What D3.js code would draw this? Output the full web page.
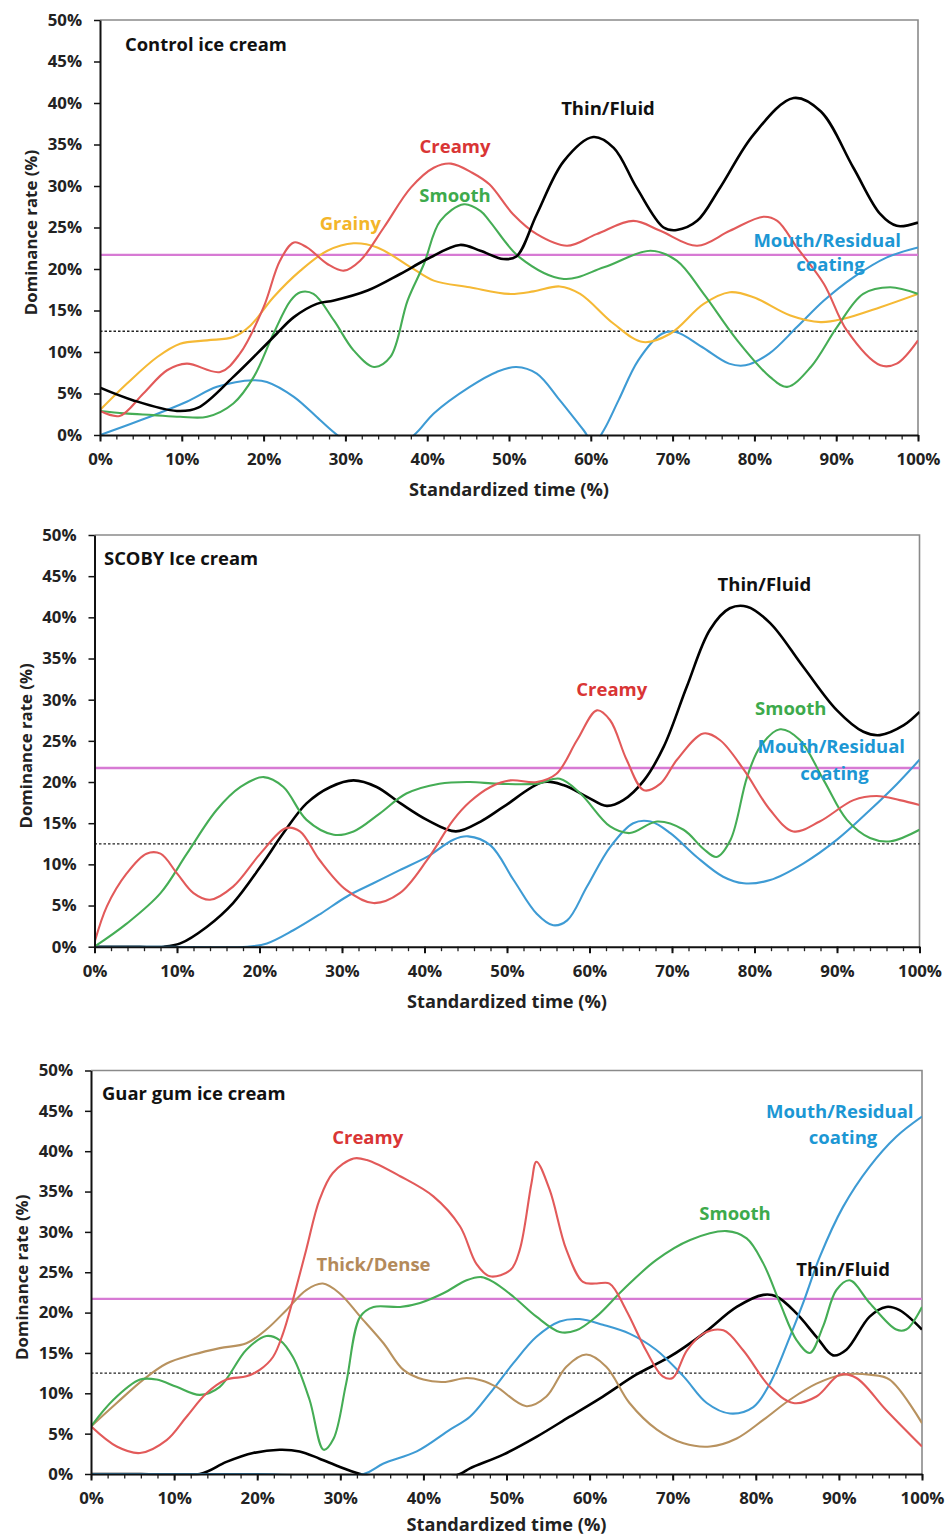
<!DOCTYPE html>
<html>
<head>
<meta charset="utf-8">
<script src="https://cdn.jsdelivr.net/npm/d3@7"></script>
<style>
  body { margin: 0; background: #fff; }
  svg text { font-family: "Open Sans", Lato, sans-serif; font-weight: 700; }
</style>
</head>
<body>
<svg id="chart" width="948" height="1538"></svg>
<script>
// ---- Axis ticks and reference levels ----
const xTickValues = [0, 10, 20, 30, 40, 50, 60, 70, 80, 90, 100];
const xMinorTicks = d3.range(0, 101, 2);
const yTickValues = [0, 5, 10, 15, 20, 25, 30, 35, 40, 45, 50];
const chanceLevel = 12.5;        // dotted line
const significanceLevel = 21.7;  // magenta line

// ---- Control ice cream: [standardized time %, dominance rate %] ----
const controlCreamy = [[0,2.9],[2.4,2.3],[5.3,5],[8.2,7.8],[10.6,8.6],[14.7,7.6],[17.1,9.8],[20,15.4],[22,21],[23.7,23.2],[25.3,22.6],[27.8,20.6],[29.8,19.8],[31.8,21],[34.7,25],[38,29.8],[40.8,32.2],[42.9,32.7],[45.5,31.6],[47.6,30.2],[50.5,26.6],[53.4,24.2],[57.1,22.8],[60.7,24.2],[65.2,25.8],[68.5,24.6],[73,22.8],[77,24.6],[81.1,26.3],[82.8,25.8],[85.2,22.6],[88.5,18.2],[91.3,12.6],[95.4,8.4],[97.4,8.6],[100,11.4]];
const controlSmooth = [[0,2.9],[3,2.6],[6.5,2.4],[9.8,2.2],[13.1,2.2],[16.3,3.8],[18.8,7],[21.2,12.2],[23.3,16.2],[24.5,17.2],[26.1,17],[28.6,13.8],[31,10.2],[33.5,8.2],[35.5,9.4],[37.6,16.2],[39.6,20.6],[41.6,25.8],[44.5,27.8],[46.5,27],[47.6,25.8],[51.3,21.4],[56.7,18.8],[61.6,20.2],[67.3,22.2],[70.5,21],[73.8,17],[77.9,11.4],[81.9,7],[84,5.8],[86.9,8.2],[90.1,13],[93.3,17],[96.6,17.8],[100,17]];
const controlGrainy = [[0,3],[3.3,6.2],[7,9.4],[9.8,11],[13.1,11.4],[16.3,11.8],[18.4,13.2],[21.2,16.6],[24.5,19.8],[27.8,22.2],[31,23.1],[33.9,22.6],[38,20.2],[40.8,18.6],[45.2,17.8],[50,17],[53,17.3],[56.2,17.9],[58.7,17],[62.8,13.4],[66.4,11.2],[69.7,12.2],[73.8,15.8],[77,17.2],[79.9,16.6],[84.4,14.4],[88.1,13.6],[90.9,14],[95.4,15.4],[100,17]];
const controlThin = [[0,5.7],[4,4.2],[9.4,2.9],[12,3.3],[16.3,7],[20,10.6],[21.6,12.2],[23.7,14.2],[26.5,15.8],[28.6,16.2],[32.7,17.4],[36.7,19.4],[40,21.2],[44,22.9],[46.5,22.2],[49.3,21.2],[50.9,21.5],[53.4,26.6],[56.7,33],[60.3,35.9],[62.8,34.6],[65.6,29.8],[68.9,25],[70.5,24.7],[73,25.8],[75.8,29.8],[79.9,36.2],[84.8,40.6],[88.1,39],[92.1,32.2],[95.4,26.6],[97.4,25.2],[100,25.6]];
const controlMouth = [[0,0],[6.1,2.2],[10.6,4],[14.3,5.8],[18.8,6.6],[20.4,6.4],[23.7,4.6],[26.9,1.8],[29,0],[33.5,-3],[38.4,0],[40.8,2.6],[45.2,5.8],[48.5,7.6],[50.9,8.2],[53.4,7.4],[56.2,4.2],[59.1,0.6],[60.4,-1],[61.6,0.6],[63.4,4.2],[65.8,9],[68.7,12.2],[70.4,12.4],[73.6,10.6],[76.9,8.6],[78.9,8.4],[81.8,9.8],[85.2,13],[88.5,16.2],[92.1,19],[96.2,21.4],[100,22.6]];

// ---- SCOBY ice cream ----
const scobyThin = [[0,0],[4,0],[8.4,0],[10.4,0.4],[13.6,2.4],[16.8,5.3],[20.1,9.7],[22.9,13.8],[25.7,17.4],[28.6,19.4],[31.4,20.2],[34.2,19.4],[37.1,17.4],[40.3,15.4],[43.8,14],[46.8,15.2],[49.6,17],[54.4,20],[56.9,19.6],[59.7,18.2],[62.1,17.1],[64.1,17.8],[66.6,20.2],[69,24.3],[71.8,31.6],[74.6,38.5],[77,41.1],[79.1,41.3],[81.9,39.3],[85.9,34],[90,28.7],[93.2,26.1],[95.2,25.7],[98.1,26.9],[100,28.5]];
const scobyCreamy = [[0,0.5],[1.5,4.9],[3.9,8.9],[6.3,11.3],[8,11.3],[10,8.9],[12,6.5],[14,5.7],[16.8,7.3],[20.1,11.3],[23.2,14.4],[24.9,14],[27.3,10.5],[30.5,6.9],[33.8,5.3],[37,6.5],[40.3,10.5],[43.5,15.4],[45.5,17.6],[48,19.4],[50.4,20.2],[53.6,20],[56,21],[58.5,25.1],[60.9,28.7],[62.5,27.5],[64.5,22.7],[66.6,19],[68.6,19.8],[70.6,22.7],[73.8,25.9],[75.8,25.1],[78.7,21.5],[81.9,16.6],[84.7,14],[87.9,15.2],[92,17.8],[94.8,18.3],[97.6,17.8],[100,17.2]];
const scobySmooth = [[0,0],[3.9,2.8],[8,6.5],[11.2,11.3],[14.8,16.6],[17.7,19.4],[20.5,20.6],[22.9,19.4],[25.7,15.4],[29,13.6],[31.4,14],[34.6,16.2],[37.8,18.6],[41.8,19.8],[45.5,20],[48.8,19.8],[53.6,19.8],[56.4,20.4],[58.9,18.6],[62.5,14.6],[64.9,13.8],[68.2,15.2],[71.4,14.2],[73.8,11.9],[75.4,10.9],[77.1,13],[79.1,20.6],[80.7,24.3],[83.1,26.4],[85.5,25.1],[88.4,20.2],[91.2,15.4],[94,13.2],[96.5,12.8],[100,14.2]];
const scobyMouth = [[0,0],[9,0],[18.5,0],[20.9,0.4],[24.1,2],[27.4,4],[30.6,6.1],[33.8,7.7],[37,9.3],[40.3,10.9],[43.5,13],[45.3,13.4],[48,12.3],[50.8,8.1],[53.6,4],[55.6,2.6],[57.3,3.2],[59.7,7.3],[62.5,12.1],[65.3,15],[67.4,15.2],[69.8,13.8],[73,10.9],[76.2,8.5],[78.7,7.7],[81.9,8.1],[85.9,10.1],[90,13],[94,16.6],[97.3,19.8],[100,22.7]];

// ---- Guar gum ice cream ----
const guarCreamy = [[0,5.9],[3.1,3.4],[5.9,2.6],[9.1,4.2],[11.5,7.1],[13.9,10],[16.3,11.7],[18.7,12.1],[20.3,12.9],[21.9,14.5],[23.1,17.4],[24.3,21.6],[25.9,27.8],[27.5,34],[29.1,37.3],[31.6,39.1],[33.2,38.9],[37.2,36.9],[41.2,34.4],[44.4,30.7],[46.4,26],[48,24.5],[50.5,25.3],[51.6,27.8],[53,36],[53.6,38.7],[55.2,35.2],[57.2,27.8],[59.2,23.8],[60.8,23.6],[62.4,23.6],[64.4,20.3],[66.8,15.3],[68.8,12.1],[70,11.9],[71.7,15.3],[73.7,17.4],[76.1,17.8],[78.5,15.3],[81.7,10.8],[84.5,8.8],[87.3,9.6],[90.1,12.3],[92.1,11.9],[95.7,7.9],[100,3.4]];
const guarSmooth = [[0,5.9],[2.7,9.2],[5.9,11.7],[7.9,11.7],[10.3,10.8],[13.1,9.8],[15.5,10.8],[18.7,15.4],[21.1,17.1],[22.7,16.6],[24.3,14.5],[26.3,9.2],[28,3],[29.2,4.4],[30.7,11.2],[32.4,19.5],[34,20.7],[37.2,20.7],[39.6,21.2],[42.4,22.4],[45.2,24],[47,24.4],[48.4,23.8],[50.8,22],[53.6,19.5],[56.4,17.6],[58.4,17.8],[60.8,19.5],[64,22.8],[68,26.5],[72.1,29],[76.5,30.1],[78.9,29.2],[80.9,26.1],[82.9,21.2],[84.9,16.6],[86.5,15],[88.1,18.3],[89.7,22.8],[91.3,24],[93.7,21.2],[96.9,17.9],[98.1,17.9],[100,20.7]];
const guarThick = [[0,5.9],[3.1,8.8],[6.3,11.7],[9.1,13.7],[12.3,14.8],[15.5,15.6],[18.7,16.2],[21.1,17.9],[23.5,20.3],[25.9,22.8],[27.9,23.6],[29.9,22.4],[32.4,19.5],[35.2,16.2],[37.6,12.9],[40,11.7],[42.4,11.4],[45.2,11.9],[47,11.6],[48.8,10.8],[52.4,8.4],[54.8,9.6],[57.2,13.3],[59.6,14.8],[62,13.3],[64.8,8.8],[68.1,5.5],[71.3,3.8],[74.5,3.4],[77.7,4.4],[80.9,6.7],[84.1,9.2],[87.3,11.2],[90.5,12.3],[93.7,12.3],[96.1,11.7],[100,6.3]];
const guarMouth = [[0,0],[10,0],[20,0],[32.8,0],[35.2,1.3],[39.2,2.8],[43.2,5.5],[45.6,7.1],[48,10],[50.8,13.7],[53.6,17],[56.4,18.9],[58.8,19.2],[61.6,18.5],[64.8,17.4],[68,15.4],[71.3,12.1],[74.1,8.8],[76.9,7.5],[79.7,8.3],[81.7,11.2],[84.1,17],[85.7,21.2],[87.7,26.9],[90.5,33.1],[93.7,38.1],[96.9,41.8],[100,44.3]];
const guarThin = [[0,0],[6,0],[13.1,0],[16.3,1.5],[19.5,2.6],[22.7,3],[25.1,2.8],[27.5,1.9],[29.9,0.9],[32.4,0],[38,-1.5],[44.4,0],[45.6,0.7],[49.6,2.4],[53.6,4.6],[57.6,7.1],[61.6,9.6],[65.6,12.3],[69.6,14.5],[73.7,17.4],[77.7,20.7],[80.9,22.2],[82.5,22],[84.9,19.9],[87.3,17],[89.3,14.7],[90.9,15.4],[93.7,19.5],[95.7,20.7],[97.3,20.3],[100,17.9]];

// ---- Attribute colours ----
const colors = {
  creamy: { line: "#e25a5a", text: "#d93535" },
  smooth: { line: "#45ad55", text: "#3daa4c" },
  grainy: { line: "#f5b935", text: "#f3b52a" },
  mouth:  { line: "#3e9bd4", text: "#1c97d4" },
  thick:  { line: "#b8925f", text: "#b48a5a" },
  thin:   { line: "#000000", text: "#111111" }
};

const panels = [
  {
    title: "Control ice cream",
    box: { left: 100, right: 918, top: 20, bottom: 435 },
    titlePos: { dx: 25, dy: 31 },
    xTitleDy: 61,
    series: [
      { data: controlMouth, c: "mouth" },
      { data: controlGrainy, c: "grainy" },
      { data: controlSmooth, c: "smooth" },
      { data: controlCreamy, c: "creamy" },
      { data: controlThin, c: "thin", w: 2.6 }
    ],
    labels: [
      { text: "Thin/Fluid", c: "thin", at: [62.1, 38.6] },
      { text: "Creamy", c: "creamy", at: [43.4, 34.0] },
      { text: "Smooth", c: "smooth", at: [43.4, 28.1] },
      { text: "Grainy", c: "grainy", at: [30.6, 24.7] },
      { text: "Mouth/Residual", c: "mouth", at: [88.9, 22.7] },
      { text: "coating", c: "mouth", at: [89.3, 19.8] }
    ]
  },
  {
    title: "SCOBY Ice cream",
    box: { left: 94.5, right: 919.5, top: 535, bottom: 946.7 },
    titlePos: { dx: 9.5, dy: 30 },
    xTitleDy: 61,
    series: [
      { data: scobyThin, c: "thin", w: 2.6 },
      { data: scobyMouth, c: "mouth" },
      { data: scobySmooth, c: "smooth" },
      { data: scobyCreamy, c: "creamy" }
    ],
    labels: [
      { text: "Thin/Fluid", c: "thin", at: [81.2, 43.2] },
      { text: "Creamy", c: "creamy", at: [62.7, 30.4] },
      { text: "Smooth", c: "smooth", at: [84.4, 28.2] },
      { text: "Mouth/Residual", c: "mouth", at: [89.3, 23.5] },
      { text: "coating", c: "mouth", at: [89.7, 20.2] }
    ]
  },
  {
    title: "Guar gum ice cream",
    box: { left: 91, right: 922, top: 1070.5, bottom: 1474 },
    titlePos: { dx: 11, dy: 29.5 },
    xTitleDy: 57,
    series: [
      { data: guarThin, c: "thin", w: 2.6 },
      { data: guarMouth, c: "mouth" },
      { data: guarThick, c: "thick" },
      { data: guarSmooth, c: "smooth" },
      { data: guarCreamy, c: "creamy" }
    ],
    labels: [
      { text: "Creamy", c: "creamy", at: [33.3, 40.9] },
      { text: "Thick/Dense", c: "thick", at: [34.0, 25.1] },
      { text: "Mouth/Residual", c: "mouth", at: [90.1, 44.1] },
      { text: "coating", c: "mouth", at: [90.5, 40.9] },
      { text: "Smooth", c: "smooth", at: [77.5, 31.5] },
      { text: "Thin/Fluid", c: "thin", at: [90.5, 24.5] }
    ]
  }
];

const svg = d3.select("#chart");
const defs = svg.append("defs");

panels.forEach((p, i) => {
  const b = p.box;
  const x = d3.scaleLinear().domain([0, 100]).range([b.left, b.right]);
  const y = d3.scaleLinear().domain([0, 50]).range([b.bottom, b.top]);
  const g = svg.append("g");

  defs.append("clipPath").attr("id", "clip" + i)
    .append("rect")
    .attr("x", b.left).attr("y", b.top)
    .attr("width", b.right - b.left).attr("height", b.bottom - b.top + 1.2);

  // plot frame (top and right edges)
  g.append("path")
    .attr("d", `M${b.left},${b.top}H${b.right}V${b.bottom}`)
    .attr("fill", "none").attr("stroke", "#8a8a8a").attr("stroke-width", 1.6);

  // reference levels
  g.append("line")
    .attr("x1", b.left).attr("x2", b.right)
    .attr("y1", y(significanceLevel)).attr("y2", y(significanceLevel))
    .attr("stroke", "#d77ad4").attr("stroke-width", 2.4);
  g.append("line")
    .attr("x1", b.left).attr("x2", b.right)
    .attr("y1", y(chanceLevel)).attr("y2", y(chanceLevel))
    .attr("stroke", "#222").attr("stroke-width", 1.3)
    .attr("stroke-dasharray", "2.5,2");

  // attribute curves
  const line = d3.line()
    .x(d => x(d[0])).y(d => y(d[1]))
    .curve(d3.curveCatmullRom.alpha(0.5));
  const lines = g.append("g").attr("clip-path", `url(#clip${i})`);
  p.series.forEach(s => {
    lines.append("path")
      .datum(s.data)
      .attr("d", line)
      .attr("fill", "none")
      .attr("stroke", colors[s.c].line)
      .attr("stroke-width", s.w || 2.1)
      .attr("stroke-linejoin", "round");
  });

  // x axis: minor ticks every 2 %, labelled major ticks every 10 %
  const xMinor = g.append("g").attr("transform", `translate(0,${b.bottom})`)
    .call(d3.axisBottom(x).tickValues(xMinorTicks).tickFormat("").tickSize(4.5).tickSizeOuter(0));
  xMinor.select(".domain").remove();
  xMinor.selectAll("line").attr("stroke", "#222").attr("stroke-width", 1.3);

  const xAxis = g.append("g").attr("transform", `translate(0,${b.bottom})`)
    .call(d3.axisBottom(x).tickValues(xTickValues).tickFormat(d => d + "%").tickSize(6.5).tickSizeOuter(0).tickPadding(12));
  xAxis.select(".domain").attr("stroke", "#111").attr("stroke-width", 2);
  xAxis.selectAll("line").attr("stroke", "#111").attr("stroke-width", 2);
  xAxis.selectAll("text").attr("font-size", 16.8).attr("fill", "#222")
    .attr("font-family", "'Open Sans', sans-serif").attr("font-weight", 700);

  // y axis
  const yAxis = g.append("g").attr("transform", `translate(${b.left},0)`)
    .call(d3.axisLeft(y).tickValues(yTickValues).tickFormat(d => d + "%").tickSize(6).tickSizeOuter(0).tickPadding(12));
  yAxis.select(".domain").attr("stroke", "#111").attr("stroke-width", 2);
  yAxis.selectAll("line").attr("stroke", "#111").attr("stroke-width", 1.5);
  yAxis.selectAll("text").attr("font-size", 16.8).attr("fill", "#222")
    .attr("font-family", "'Open Sans', sans-serif").attr("font-weight", 700);

  // axis titles
  g.append("text")
    .attr("x", (b.left + b.right) / 2).attr("y", b.bottom + p.xTitleDy)
    .attr("text-anchor", "middle").attr("font-size", 18.2).attr("fill", "#222")
    .text("Standardized time (%)");
  g.append("text")
    .attr("transform", `translate(${b.left - 63},${(b.top + b.bottom) / 2 + 5}) rotate(-90)`)
    .attr("text-anchor", "middle").attr("font-size", 16.8).attr("fill", "#222")
    .text("Dominance rate (%)");

  // panel title
  g.append("text")
    .attr("x", b.left + p.titlePos.dx).attr("y", b.top + p.titlePos.dy)
    .attr("font-size", 18.4).attr("fill", "#111")
    .text(p.title);

  // attribute labels
  p.labels.forEach(l => {
    g.append("text")
      .attr("x", x(l.at[0])).attr("y", y(l.at[1]))
      .attr("text-anchor", "middle").attr("font-size", 18.5)
      .attr("fill", colors[l.c].text)
      .text(l.text);
  });
});
</script>
</body>
</html>
